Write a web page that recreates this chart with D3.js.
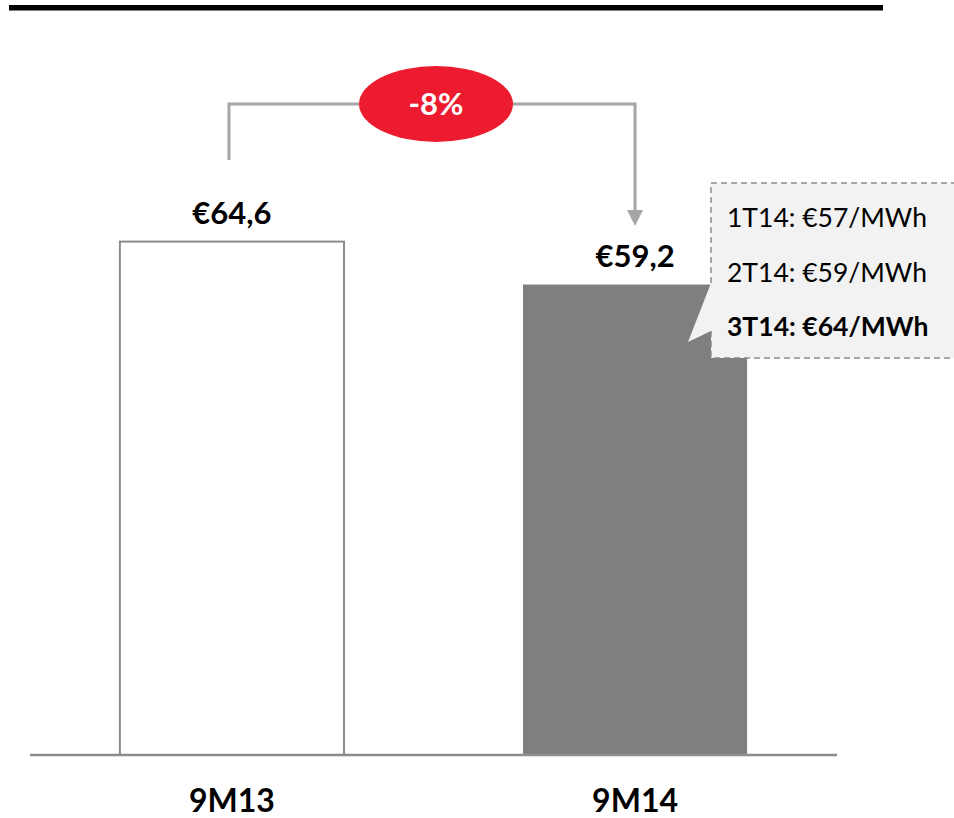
<!DOCTYPE html>
<html>
<head>
<meta charset="utf-8">
<script src="https://cdn.jsdelivr.net/npm/d3@7"></script>
<style>
  body { margin: 0; background: #fff; }
  svg { display: block; font-family: Lato, "Open Sans", sans-serif; }
</style>
</head>
<body>
<svg id="chart" width="954" height="818"></svg>
<script>
// chart data
var categories = ["9M13", "9M14"];
var values = [64.6, 59.2];
var valueLabels = ["€64,6", "€59,2"];
var changeLabel = "-8%";
var quarterNotes = ["1T14: €57/MWh", "2T14: €59/MWh", "3T14: €64/MWh"];

var svg = d3.select("#chart"),
    baseY = 755;

var x = d3.scaleBand()
    .domain(categories)
    .range([30, 837])
    .paddingInner(0.444)
    .paddingOuter(0.223);

var y = d3.scaleLinear()
    .domain([0, 95])
    .range([baseY, 0]);

// thick rule on top
svg.append("rect")
    .attr("x", 9).attr("y", 5)
    .attr("width", 874).attr("height", 5.5)
    .attr("fill", "#000");

// bars
svg.selectAll(".bar")
    .data(values)
    .enter().append("rect")
    .attr("class", "bar")
    .attr("x", function(d, i) { return x(categories[i]); })
    .attr("y", function(d) { return y(d); })
    .attr("width", x.bandwidth())
    .attr("height", function(d) { return baseY - y(d); })
    .attr("fill", function(d, i) { return i == 0 ? "#fff" : "#7f7f7f"; })
    .attr("stroke", function(d, i) { return i == 0 ? "#8c8c8c" : "none"; })
    .attr("stroke-width", 2);

// baseline
svg.append("line")
    .attr("x1", 30).attr("x2", 837)
    .attr("y1", baseY).attr("y2", baseY)
    .attr("stroke", "#8c8c8c")
    .attr("stroke-width", 2.5);

// value labels
svg.selectAll(".val")
    .data(values)
    .enter().append("text")
    .attr("class", "val")
    .attr("x", function(d, i) { return x(categories[i]) + x.bandwidth() / 2; })
    .attr("y", function(d) { return y(d) - 18; })
    .attr("text-anchor", "middle")
    .style("font-size", "31px")
    .style("font-weight", "bold")
    .text(function(d, i) { return valueLabels[i]; });

// category labels
svg.selectAll(".cat")
    .data(categories)
    .enter().append("text")
    .attr("class", "cat")
    .attr("x", function(d) { return x(d) + x.bandwidth() / 2; })
    .attr("y", 812)
    .attr("text-anchor", "middle")
    .style("font-size", "32px")
    .style("font-weight", "bold")
    .text(function(d) { return d; });

// bracket showing change
var cx0 = x(categories[0]) + x.bandwidth() / 2 - 3,
    cx1 = x(categories[1]) + x.bandwidth() / 2,
    topY = 104;

svg.append("path")
    .attr("d", "M" + cx0 + ",160 V" + topY + " H" + cx1 + " V211")
    .attr("fill", "none")
    .attr("stroke", "#a6a6a6")
    .attr("stroke-width", 3);

svg.append("path")
    .attr("d", "M" + (cx1 - 8) + ",210 L" + (cx1 + 8) + ",210 L" + cx1 + ",226 Z")
    .attr("fill", "#a6a6a6");

var midX = (cx0 + cx1) / 2 + 4;
svg.append("ellipse")
    .attr("cx", midX).attr("cy", topY)
    .attr("rx", 77).attr("ry", 38)
    .attr("fill", "#ed1b2f");

svg.append("text")
    .attr("x", midX).attr("y", topY + 11)
    .attr("text-anchor", "middle")
    .attr("fill", "#fff")
    .style("font-size", "31px")
    .style("font-weight", "bold")
    .text(changeLabel);

// callout box with quarterly figures
var bx = 711, by = 183, bb = 358;
svg.append("path")
    .attr("d", "M" + bx + "," + by + " H960 V" + bb + " H" + bx + " V331 L688,342 L" + bx + ",283 Z")
    .attr("fill", "#f2f2f2");

svg.append("path")
    .attr("d", "M" + bx + ",283 V" + by + " H960 M960," + bb + " H" + bx + " V331")
    .attr("fill", "none")
    .attr("stroke", "#8c8c8c")
    .attr("stroke-width", 1.5)
    .attr("stroke-dasharray", "6,4");

svg.selectAll(".note")
    .data(quarterNotes)
    .enter().append("text")
    .attr("class", "note")
    .attr("x", 727)
    .attr("y", function(d, i) { return 227 + i * 54.5; })
    .style("font-size", "26.5px")
    .style("font-weight", function(d, i) { return i == 2 ? "bold" : "normal"; })
    .text(function(d) { return d; });
</script>
</body>
</html>
